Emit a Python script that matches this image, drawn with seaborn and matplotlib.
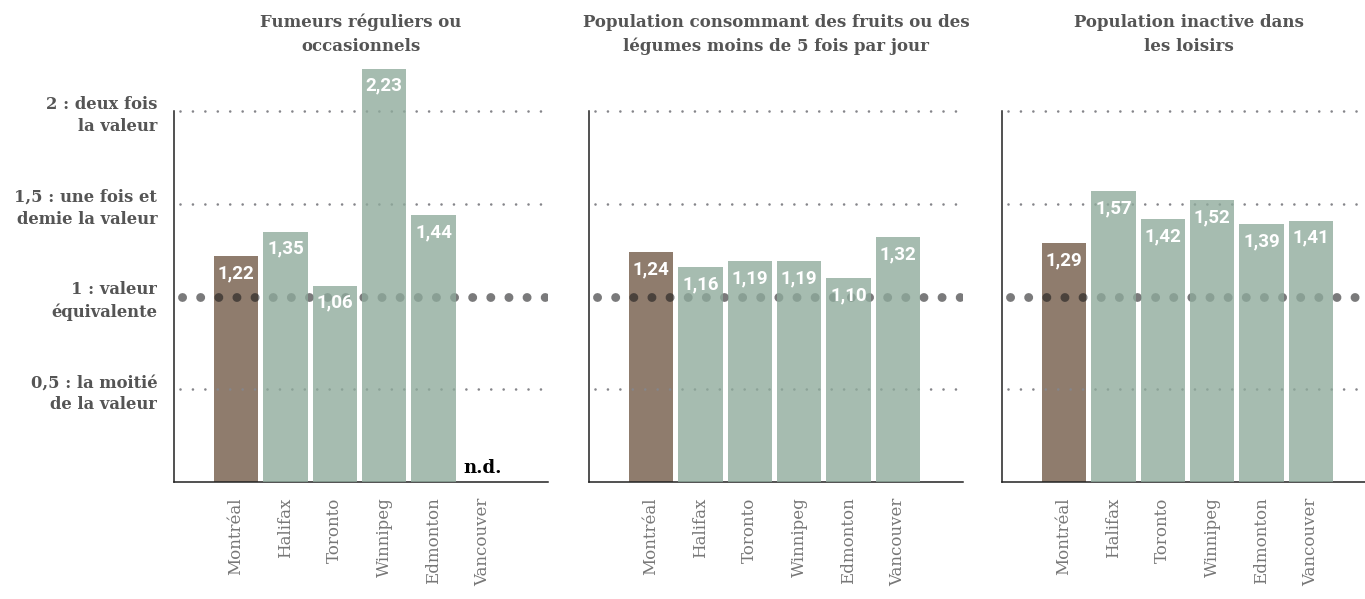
import numpy as np
import pandas as pd
import matplotlib
matplotlib.use("Agg")
import matplotlib.pyplot as plt
import seaborn as sns

# ---- data ----
cities = ["Montréal", "Halifax", "Toronto", "Winnipeg", "Edmonton", "Vancouver"]
titles = ["Fumeurs réguliers ou\noccasionnels",
          "Population consommant des fruits ou des\nlégumes moins de 5 fois par jour",
          "Population inactive dans\nles loisirs"]
smokers = [1.22, 1.35, 1.06, 2.23, 1.44, np.nan]
fruits = [1.24, 1.16, 1.19, 1.19, 1.10, 1.32]
inactive = [1.29, 1.57, 1.42, 1.52, 1.39, 1.41]
ytick_vals = [0.5, 1.0, 1.5, 2.0]
ytick_labels = ["0,5 : la moitié\nde la valeur", "1 : valeur\néquivalente",
                "1,5 : une fois et\ndemie la valeur", "2 : deux fois\nla valeur"]
na_label = "n.d."

BROWN = "#8f7c6d"
GREEN_BASE = "#8eaa9b"   # drawn with alpha -> appears #a5bbaf on white
DOT = "#161618"
TEXT = "#555555"

sns.set_theme(style="white")
plt.rcParams["font.family"] = ["DejaVu Serif"]

fig = plt.figure(figsize=(13.65, 5.99), dpi=100)
W, H = 1365, 599
lefts = [174, 589, 1002]
axw = 374
y0 = 482
ytop = 2.3
pxunit = 185.3

for i, (vals, title) in enumerate(zip([smokers, fruits, inactive], titles)):
    ax = fig.add_axes([lefts[i] / W, (H - y0) / H, axw / W, ytop * pxunit / H])
    df = pd.DataFrame({"city": cities, "value": vals})
    palette = {c: (BROWN if j == 0 else GREEN_BASE) for j, c in enumerate(cities)}
    sns.barplot(data=df, x="city", y="value", hue="city", order=cities,
                palette=palette, legend=False, width=0.9, ax=ax,
                saturation=1, edgecolor="none", linewidth=0)
    for j, p in enumerate(ax.patches):
        if p.get_facecolor()[:3] == matplotlib.colors.to_rgb(BROWN):
            p.set_zorder(1)
        else:
            p.set_alpha(0.79)
            p.set_zorder(3)
    ax.set_xlim(-1.255, -1.255 + axw / 49.4)
    ax.set_ylim(0, ytop)

    # grid lines
    for yv in [0.5, 1.5, 2.0]:
        ax.axhline(yv, xmin=0.016, xmax=0.985, color="#85858a", lw=1.9,
                   ls=(0, (0.01, 4.7)), dash_capstyle="round", zorder=2)
    ax.axhline(1.0, xmin=0.022, xmax=0.995, color=DOT, alpha=0.57, lw=6.4,
               ls=(0, (0.01, 2.03)), dash_capstyle="round", zorder=2)

    # value labels
    for j, v in enumerate(vals):
        if np.isnan(v):
            ax.annotate(na_label, (j, 0), xytext=(0, 3.5), textcoords="offset points",
                        ha="center", va="bottom", fontsize=13, fontweight="heavy",
                        color="black", zorder=5)
        else:
            ax.annotate(f"{v:.2f}".replace(".", ","), (j, v), xytext=(0, -12.3),
                        textcoords="offset points", ha="center", va="center",
                        fontsize=13.5, fontweight="bold", color="white",
                        family=["Roboto", "DejaVu Sans"], zorder=6)

    # spines
    sns.despine(ax=ax, top=True, right=True)
    ax.spines["left"].set_bounds(0, 2)
    ax.spines["left"].set_color("#222222")
    ax.spines["left"].set_linewidth(1.1)
    ax.spines["bottom"].set_color("#222222")
    ax.spines["bottom"].set_linewidth(1.1)

    ax.set_xlabel("")
    ax.set_ylabel("")
    ax.set_xticks(range(len(cities)))
    ax.set_xticklabels(cities, rotation=90, fontsize=12, color="#777777", va="top")
    ax.tick_params(axis="x", length=0, pad=11)
    if i == 0:
        ax.set_yticks(ytick_vals)
        ax.set_yticklabels(ytick_labels, fontsize=11.8, fontweight="bold",
                           color=TEXT, linespacing=1.35, ha="right",
                           multialignment="right")
        ax.tick_params(axis="y", length=0, pad=12)
    else:
        ax.set_yticks([])

    ax.text(0.5, (y0 - 34.5) / (ytop * pxunit), title, transform=ax.transAxes,
            ha="center", va="center", fontsize=12, fontweight="bold",
            color=TEXT, linespacing=1.55)

fig.savefig("out.png", dpi=100)
